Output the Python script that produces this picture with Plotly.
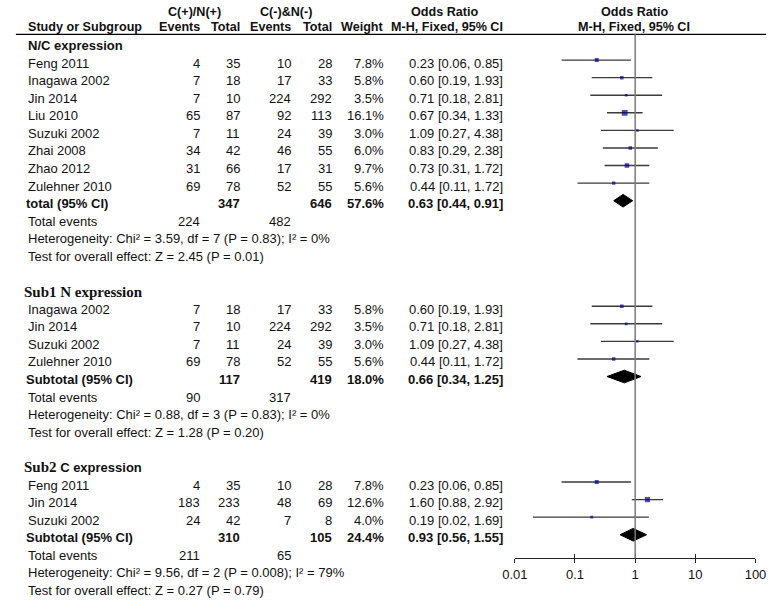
import plotly.graph_objects as go

# ---------------- data ----------------
nc_title = "N/C expression"
nc_studies = ["Feng 2011", "Inagawa 2002", "Jin 2014", "Liu 2010", "Suzuki 2002", "Zhai 2008", "Zhao 2012", "Zulehner 2010"]
nc_ev1 = [4, 7, 7, 65, 7, 34, 31, 69]
nc_tot1 = [35, 18, 10, 87, 11, 42, 66, 78]
nc_ev2 = [10, 17, 224, 92, 24, 46, 17, 52]
nc_tot2 = [28, 33, 292, 113, 39, 55, 31, 55]
nc_weight = [7.8, 5.8, 3.5, 16.1, 3.0, 6.0, 9.7, 5.6]
nc_or = [0.23, 0.60, 0.71, 0.67, 1.09, 0.83, 0.73, 0.44]
nc_lo = [0.06, 0.19, 0.18, 0.34, 0.27, 0.29, 0.31, 0.11]
nc_hi = [0.85, 1.93, 2.81, 1.33, 4.38, 2.38, 1.72, 1.72]
nc_total = ["total (95% CI)", 347, 646, 57.6, 0.63, 0.44, 0.91]
nc_events = [224, 482]
nc_het = "Heterogeneity: Chi² = 3.59, df = 7 (P = 0.83); I² = 0%"
nc_test = "Test for overall effect: Z = 2.45 (P = 0.01)"

s1_title = "Sub1 N expression"
s1_studies = ["Inagawa 2002", "Jin 2014", "Suzuki 2002", "Zulehner 2010"]
s1_ev1 = [7, 7, 7, 69]
s1_tot1 = [18, 10, 11, 78]
s1_ev2 = [17, 224, 24, 52]
s1_tot2 = [33, 292, 39, 55]
s1_weight = [5.8, 3.5, 3.0, 5.6]
s1_or = [0.60, 0.71, 1.09, 0.44]
s1_lo = [0.19, 0.18, 0.27, 0.11]
s1_hi = [1.93, 2.81, 4.38, 1.72]
s1_total = ["Subtotal (95% CI)", 117, 419, 18.0, 0.66, 0.34, 1.25]
s1_events = [90, 317]
s1_het = "Heterogeneity: Chi² = 0.88, df = 3 (P = 0.83); I² = 0%"
s1_test = "Test for overall effect: Z = 1.28 (P = 0.20)"

s2_title = "Sub2 C expression"
s2_studies = ["Feng 2011", "Jin 2014", "Suzuki 2002"]
s2_ev1 = [4, 183, 24]
s2_tot1 = [35, 233, 42]
s2_ev2 = [10, 48, 7]
s2_tot2 = [28, 69, 8]
s2_weight = [7.8, 12.6, 4.0]
s2_or = [0.23, 1.60, 0.19]
s2_lo = [0.06, 0.88, 0.02]
s2_hi = [0.85, 2.92, 1.69]
s2_total = ["Subtotal (95% CI)", 310, 105, 24.4, 0.93, 0.56, 1.55]
s2_events = [211, 65]
s2_het = "Heterogeneity: Chi² = 9.56, df = 2 (P = 0.008); I² = 79%"
s2_test = "Test for overall effect: Z = 0.27 (P = 0.79)"

axis_ticks = [0.01, 0.1, 1, 10, 100]
axis_ticktext = ["0.01", "0.1", "1", "10", "100"]

header_top = ["C(+)/N(+)", "C(-)&N(-)", "Odds Ratio", "Odds Ratio"]
header_cols = ["Study or Subgroup", "Events", "Total", "Events", "Total", "Weight",
               "M-H, Fixed, 95% CI", "M-H, Fixed, 95% CI"]

groups = [
    (nc_title, nc_studies, nc_ev1, nc_tot1, nc_ev2, nc_tot2, nc_weight, nc_or, nc_lo, nc_hi,
     nc_total, nc_events, nc_het, nc_test),
    (s1_title, s1_studies, s1_ev1, s1_tot1, s1_ev2, s1_tot2, s1_weight, s1_or, s1_lo, s1_hi,
     s1_total, s1_events, s1_het, s1_test),
    (s2_title, s2_studies, s2_ev1, s2_tot1, s2_ev2, s2_tot2, s2_weight, s2_or, s2_lo, s2_hi,
     s2_total, s2_events, s2_het, s2_test),
]

# ---------------- layout constants ----------------
W, H = 782, 603
SANS = "Liberation Sans, Arial, sans-serif"
SERIF = "Liberation Serif, Times New Roman, serif"
FS = 13
HFS = 12.6
ROW0_PX, ROW_PX = 42.5, 17.58           # pixel of row 0 marks, row pitch
TEXT_SHIFT = -3
X_NAME, X_EV1, X_TOT1, X_EV2, X_TOT2, X_W, X_OR = 15, 193, 234.5, 287, 329, 383, 506
AX_LEFT, AX_RIGHT, AX_Y = 517.7, 766, 558.3
HEAD_LINE_Y = 34.3
TXT_COLOR = "#111111"
CI_COLOR = "#3a3a3a"
SQ_COLOR = "#00009a"

annotations = []


def px(x):
    return x / W


def txt(x, row, s, anchor="left", family=SANS, size=FS, yref="y"):
    annotations.append(dict(
        xref="paper", yref=yref, x=px(x), y=row, text=s, showarrow=False,
        xanchor=anchor, yanchor="middle", yshift=TEXT_SHIFT if yref == "y" else 0,
        borderpad=0, borderwidth=0,
        font=dict(family=family, size=size, color=TXT_COLOR)))


fig = go.Figure()

ci_x, ci_y = [], []
sq_x, sq_y, sq_s = [], [], []

row = 0
for gi, (title, studies, ev1, tot1, ev2, tot2, wt, orv, lo, hi, tot, evs, het, test) in enumerate(groups):
    if gi == 0:
        txt(X_NAME, row, "<b>" + title + "</b>")
    elif gi == 1:
        txt(X_NAME - 4, row, "<b>" + title + "</b>", family=SERIF, size=15)
    else:
        first, rest = title.split(" ", 1)
        txt(X_NAME - 4, row,
            '<b><span style="font-family:Liberation Serif;font-size:15px">' + first +
            "</span> " + rest + "</b>")
    for i, name in enumerate(studies):
        r = row + 1 + i
        txt(X_NAME, r, name)
        txt(X_EV1, r, str(ev1[i]), "right")
        txt(X_TOT1, r, str(tot1[i]), "right")
        txt(X_EV2, r, str(ev2[i]), "right")
        txt(X_TOT2, r, str(tot2[i]), "right")
        txt(X_W, r, f"{wt[i]:.1f}%", "right")
        txt(X_OR, r, f"{orv[i]:.2f} [{lo[i]:.2f}, {hi[i]:.2f}]", "right")
        ci_x += [lo[i], hi[i], None]
        ci_y += [r, r, None]
        sq_x.append(orv[i])
        sq_y.append(r)
        sq_s.append(1.45 * wt[i] ** 0.5)
    r = row + 1 + len(studies)
    label, t1, t2, tw, tor, tlo, thi = tot
    txt(X_NAME - 2, r, "<b>" + label + "</b>")
    txt(X_TOT1, r, f"<b>{t1}</b>", "right")
    txt(X_TOT2, r, f"<b>{t2}</b>", "right")
    txt(X_W, r, f"<b>{tw:.1f}%</b>", "right")
    txt(X_OR, r, f"<b>{tor:.2f} [{tlo:.2f}, {thi:.2f}]</b>", "right")
    hd = 0.36
    fig.add_trace(go.Scatter(
        x=[tlo, tor, thi, tor, tlo], y=[r, r - hd, r, r + hd, r],
        mode="lines", fill="toself", fillcolor="black",
        line=dict(color="black", width=1), hoverinfo="skip", showlegend=False))
    txt(X_NAME, r + 1, "Total events")
    txt(X_EV1, r + 1, str(evs[0]), "right")
    txt(X_EV2, r + 1, str(evs[1]), "right")
    txt(X_NAME, r + 2, het)
    txt(X_NAME, r + 3, test)
    row = r + 5

fig.add_trace(go.Scatter(x=ci_x, y=ci_y, mode="lines",
                         line=dict(color=CI_COLOR, width=1.4),
                         hoverinfo="skip", showlegend=False))
fig.add_trace(go.Scatter(x=sq_x, y=sq_y, mode="markers",
                         marker=dict(symbol="square", size=sq_s, color=SQ_COLOR, line=dict(width=0)),
                         hoverinfo="skip", showlegend=False))
# invisible trace to activate the second (inward tick) axis
fig.add_trace(go.Scatter(x=[1], y=[0], xaxis="x2", mode="markers",
                         marker=dict(opacity=0), hoverinfo="skip", showlegend=False))

# headers
HY1 = 1 - 12 / H
HY2 = 1 - 27.5 / H
hdr_font = dict(family=SANS, size=HFS, color=TXT_COLOR)
for s, xc in zip(header_top, [187.5, 281.7, 445, 641]):
    annotations.append(dict(xref="paper", yref="paper", x=px(xc), y=HY1, text="<b>" + s + "</b>",
                            showarrow=False, xanchor="center", yanchor="middle",
                            borderpad=0, borderwidth=0, font=hdr_font))
for s, xp, anc in zip(header_cols,
                      [X_NAME, X_EV1, X_TOT1, X_EV2, X_TOT2, X_W, X_OR, 641],
                      ["left", "right", "right", "right", "right", "right", "right", "center"]):
    annotations.append(dict(xref="paper", yref="paper", x=px(xp), y=HY2, text="<b>" + s + "</b>",
                            showarrow=False, xanchor=anc, yanchor="middle",
                            borderpad=0, borderwidth=0, font=hdr_font))

ax_pos = 1 - AX_Y / H
shapes = [
    dict(type="line", xref="paper", yref="paper", x0=px(3), x1=px(777),
         y0=1 - HEAD_LINE_Y / H, y1=1 - HEAD_LINE_Y / H, line=dict(color="black", width=1.3)),
    dict(type="line", xref="x", yref="paper", x0=1, x1=1,
         y0=ax_pos, y1=1 - HEAD_LINE_Y / H, line=dict(color="#7a7a7a", width=1.5)),
]

y_top = -ROW0_PX / ROW_PX
y_bot = (H - ROW0_PX) / ROW_PX

common_x = dict(type="log", range=[-2, 2], domain=[px(AX_LEFT), px(AX_RIGHT)],
                anchor="free", position=ax_pos, showgrid=False, zeroline=False,
                tickvals=axis_ticks, fixedrange=True)

fig.update_layout(
    width=W, height=H, margin=dict(l=0, r=0, t=0, b=0),
    paper_bgcolor="white", plot_bgcolor="white",
    showlegend=False,
    xaxis=dict(**common_x, ticktext=axis_ticktext, showline=True, linecolor="#222222",
               linewidth=1.2, ticks="outside", ticklen=4, tickwidth=1.2, tickcolor="#222222",
               tickfont=dict(family=SANS, size=FS, color=TXT_COLOR)),
    xaxis2=dict(**common_x, overlaying="x", showline=False, ticks="inside", ticklen=4,
                tickwidth=1.2, tickcolor="#222222", showticklabels=False),
    yaxis=dict(range=[y_bot, y_top], domain=[0, 1], visible=False, fixedrange=True),
    annotations=annotations, shapes=shapes,
)

fig.write_html(
    "out.html",
    config={"displayModeBar": False},
    post_script="document.body.style.margin='0';document.body.style.overflow='hidden';",
)
